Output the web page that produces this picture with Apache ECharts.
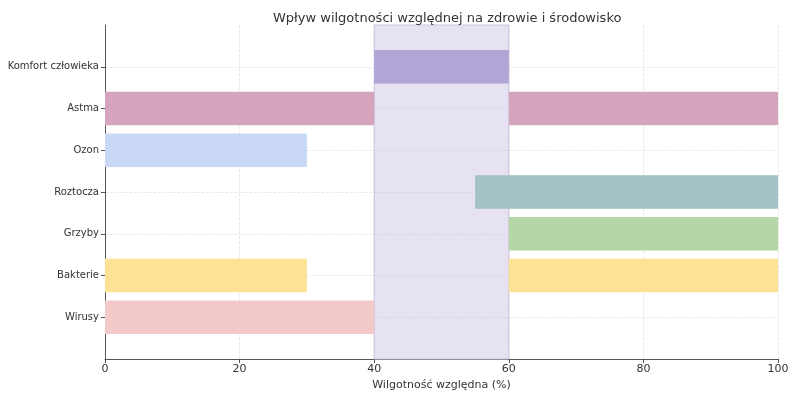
<!DOCTYPE html>
<html><head><meta charset="utf-8">
<script src="https://cdn.jsdelivr.net/npm/echarts@6/dist/echarts.min.js"></script>
<style>html,body{margin:0;padding:0;background:#fff}#c{width:800px;height:400px}</style>
</head><body><div id="c"></div>
<script>
var categories = ['Wirusy','Bakterie','Grzyby','Roztocza','Ozon','Astma','Komfort człowieka'];
var rangeStarts = [[0],[0,60],[60],[55],[0],[0,60],[40]];
var rangeEnds   = [[40],[30,100],[100],[100],[30],[40,100],[60]];
var barColors = ['#f4c9ca','#fde195','#b5d6a5','#a3c2c6','#c9d8f5','#d4a5bd','#b1a4d6'];
var comfortZone = [40, 60];
var xTicks = [0,20,40,60,80,100];

var yData = [''].concat(categories).concat(['']);
var data = [];
categories.forEach(function(c, i){
  rangeStarts[i].forEach(function(s, j){
    data.push({value:[s, rangeEnds[i][j], i+1], itemStyle:{color:barColors[i]}});
  });
});
var chart = echarts.init(document.getElementById('c'));
var F = 'DejaVu Sans';
chart.setOption({
  animation:false,
  title:{text:'Wpływ wilgotności względnej na zdrowie i środowisko',left:268,top:7,
    textStyle:{fontFamily:F,fontSize:13,fontWeight:'normal',color:'#333'}},
  grid:{left:105,right:22,top:25,bottom:41},
  xAxis:{type:'value',min:0,max:100,interval:20,
    name:'Wilgotność względna (%)',nameLocation:'middle',nameGap:17,
    nameTextStyle:{fontFamily:F,fontSize:11,color:'#333'},
    axisLine:{show:true,lineStyle:{color:'#555',width:1}},
    axisTick:{show:true,inside:false,length:4,lineStyle:{color:'#555'}},
    axisLabel:{fontFamily:F,fontSize:11,color:'#333',margin:5},
    splitLine:{show:true,lineStyle:{color:'#e3e3e3',type:'dashed',width:0.8}}},
  yAxis:{type:'category',data:yData,boundaryGap:false,
    axisLine:{show:true,lineStyle:{color:'#555',width:1}},
    axisTick:{show:true,length:4,lineStyle:{color:'#555'},interval:function(i,v){return v!=='';}},
    axisLabel:{fontFamily:F,fontSize:10,color:'#333',margin:6,interval:function(i,v){return v!=='';}},
    splitLine:{show:true,interval:function(i,v){return v!=='';},lineStyle:{color:'#e3e3e3',type:'dashed',width:0.8}}},
  series:[{
    type:'custom',
    renderItem:function(params, api){
      var p0 = api.coord([api.value(0), api.value(2)]);
      var p1 = api.coord([api.value(1), api.value(2)]);
      var h = api.size([0,1])[1]*0.8;
      return {type:'rect',shape:{x:p0[0],y:p0[1]-h/2,width:p1[0]-p0[0],height:h},
        style:api.style()};
    },
    encode:{x:[0,1],y:2},
    data:data,
    z:3,
    markArea:{silent:true,
      itemStyle:{color:'rgba(200,190,225,0.45)',borderColor:'#cbc3df',borderWidth:1},
      data:[[{xAxis:comfortZone[0]},{xAxis:comfortZone[1]}]]}
  }]
});
</script></body></html>
